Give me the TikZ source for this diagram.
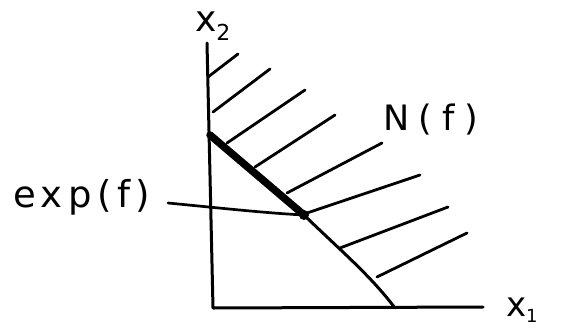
\documentclass[tikz,border=0pt]{standalone}
\usepackage{fontspec}
\newfontfamily\handA[LetterSpace=15]{DejaVu Sans}
\newfontfamily\handB[LetterSpace=28]{DejaVu Sans}
\newfontfamily\handC{DejaVu Sans}
\begin{document}
\begin{tikzpicture}[x=1pt,y=-1pt,
  ink/.style={line width=3pt,line cap=round,line join=round},
  hatch/.style={line width=2.8pt,line cap=round},
  face/.style={line width=7.5pt,line cap=round},
  lbl/.style={inner sep=0pt,outer sep=0pt}]
\useasboundingbox (0,0) rectangle (565,327);
% labels
\node[lbl,anchor=base west] (x2) at (195,31) {\fontsize{36}{40}\selectfont\handC x\raisebox{-0.25em}{\fontsize{22}{22}\selectfont 2}};
\node[lbl,anchor=base west] (x1) at (506,316) {\fontsize{34}{40}\selectfont\handC x\raisebox{-0.2em}{\fontsize{18}{18}\selectfont 1}};
\node[lbl,anchor=base west] (Nf) at (383,130) {\fontsize{35}{38}\selectfont\handB N(f)};
\node[lbl,anchor=base west] (ex) at (13,207) {\fontsize{37}{40}\selectfont\handA exp(f)};
% axes
\coordinate (top) at (207,43);
\coordinate (o) at (213,308);
\coordinate (right) at (483,307);
\coordinate (a) at (210,135);
\coordinate (b) at (395,308);
\node[circle,fill=black,inner sep=0pt,minimum size=10pt] (v) at (304,215) {};
\draw[ink] (top) -- (o) -- (right);
% Newton boundary
\draw[face] (a) -- (v.center);
\draw[ink] (v.center) .. controls (340,250) and (370,275) .. (b);
% hatching
\draw[hatch] (208,77) -- (238,54);
\draw[hatch] (213,112) -- (270,69);
\draw[hatch] (227,143) -- (305,90);
\draw[hatch] (255,167) -- (335,115);
\draw[hatch] (287,193) -- (382,143);
\draw[hatch] (307,213) -- (420,175);
\draw[hatch] (340,248) -- (448,207);
\draw[hatch] (377,277) -- (467,233);
% connector
\coordinate (exs) at (168,203);
\draw[ink,line width=2.7pt] (exs) .. controls (220,208) and (265,213) .. (v.center);
\end{tikzpicture}
\end{document}
